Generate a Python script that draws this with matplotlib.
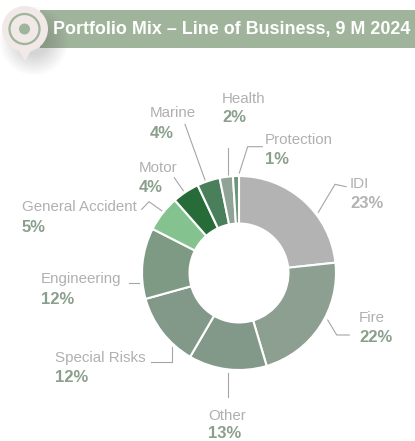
import matplotlib
matplotlib.use('Agg')
import matplotlib.pyplot as plt
from matplotlib.patches import Circle, Polygon, Rectangle

plt.rcParams['font.family'] = ['Liberation Sans', 'DejaVu Sans']

# clockwise from the top
names = ['IDI', 'Fire', 'Other', 'Special Risks', 'Engineering', 'General Accident',
         'Motor', 'Marine', 'Health', 'Protection']
shares = [23, 22, 13, 12, 12, 5, 4, 4, 2, 1]
wedges = [23.3, 22.1, 13.0, 12.3, 11.8, 6.0, 4.5, 3.8, 2.2, 1.0]
colors = ['#b3b3b3', '#8d9f90', '#82998a', '#82998a', '#7f9a84', '#84c390',
          '#276c38', '#4a7f5c', '#8fa396', '#6f9379']
title = 'Portfolio Mix \u2013 Line of Business, 9 M 2024'

# label position (left x, name y, percent y) in pixels
label_pos = [(350, 184, 203), (359, 318, 338), (208, 416, 433), (55, 358, 378), (41, 279, 299),
             (22, 207, 227), (139, 168, 187), (150, 113, 133), (222, 99, 118), (265, 140, 159)]
pct_colors = ['#b3b3b3'] + ['#8a9f8c'] * 9

# leader lines in pixels
leaders = [
    [(318.3, 212.3), (335, 184.3), (346, 186.7)],
    [(327.7, 320), (336.7, 335), (349.3, 335)],
    [(227.7, 372.7), (227.7, 397.3)],
    [(171.7, 347.3), (171.7, 361.7), (150.7, 361.7)],
    [(139, 283), (129.3, 283)],
    [(161.7, 210.7), (149, 201.7), (141.7, 209.3)],
    [(183.3, 190.7), (174.3, 177.7)],
    [(205, 180), (185, 124.3)],
    [(227.7, 176.7), (227.7, 147.7)],
    [(239.3, 173), (247.7, 146.7), (262.3, 146.7)],
]

W, H = 415, 441
fig = plt.figure(figsize=(W / 100, H / 100), dpi=100)

# overlay in pixel coordinates, y going down
bg = fig.add_axes([0, 0, 1, 1])
bg.set_xlim(0, W)
bg.set_ylim(H, 0)
bg.axis('off')

# header band and pin
bg.add_patch(Rectangle((40, 10), W - 40, 37.5, color='#a0b49b', lw=0))
# soft shadow, stacked translucent circles
for r in range(34, 12, -2):
    bg.add_patch(Circle((34, 41), r, color='#444444', alpha=0.018, lw=0))
bg.add_patch(Polygon([(18, 49), (32, 49), (25, 61)], color='#f0e9e8', lw=0))
bg.add_patch(Circle((25, 29), 23, color='#f0e9e8', lw=0))
bg.add_patch(Circle((24.5, 29), 15, fill=False, ec='#a0b49b', lw=1.6))
bg.add_patch(Circle((24.5, 29), 5.5, color='#a0b49b', lw=0))
bg.text(53, 29.5, title, color='white', fontsize=12.9, fontweight='bold', va='center', ha='left')

for pts in leaders:
    bg.plot([p[0] for p in pts], [p[1] for p in pts], color='#a5a5a5', lw=0.8)

for name, share, pos, pc in zip(names, shares, label_pos, pct_colors):
    bg.text(pos[0], pos[1], name, color='#b0b0b0', fontsize=10.9, va='center', ha='left')
    bg.text(pos[0], pos[2], '%d%%' % share, color=pc, fontsize=12, fontweight='bold', va='center', ha='left')

# donut, centre (239, 273), radius 97 px
cx, cy, rad = 239, 273, 97
ax = fig.add_axes([(cx - rad) / W, 1 - (cy + rad) / H, 2 * rad / W, 2 * rad / H])
ax.pie(wedges, colors=colors, startangle=90, counterclock=False, radius=1,
       wedgeprops=dict(width=0.49, edgecolor='white', linewidth=1.5))
ax.set_xlim(-1, 1)
ax.set_ylim(-1, 1)

fig.savefig('out.png', dpi=100)
